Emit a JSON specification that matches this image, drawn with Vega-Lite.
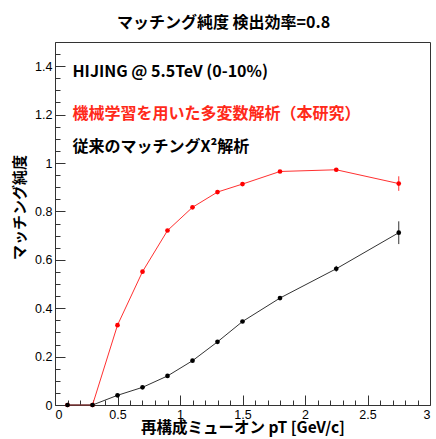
{
  "$schema": "https://vega.github.io/schema/vega-lite/v6.json",
  "width": 375,
  "height": 363,
  "autosize": "none",
  "padding": {"left": 55, "top": 42, "right": 6, "bottom": 34},
  "background": "white",
  "title": {"text": "マッチング純度  検出効率=0.8", "font": "Noto Sans CJK JP", "fontSize": 16, "fontWeight": "bold", "anchor": "middle", "dx": -19, "offset": 11, "color": "black"},
  "config": {
    "view": {"stroke": "#333", "strokeWidth": 1},
    "axis": {"grid": false, "domain": false, "labelFont": "Liberation Sans", "labelFontSize": 12.5, "labelColor": "black", "tickColor": "#333", "titleColor": "black", "titleFont": "Noto Sans CJK JP", "titleFontWeight": "bold"}
  },
  "datasets": {
    "pts": [
      {"pt": 0.1, "purity": 0.0, "lo": 0.0, "hi": 0.0, "method": "ML"},
      {"pt": 0.3, "purity": 0.0, "lo": 0.0, "hi": 0.0, "method": "ML"},
      {"pt": 0.5, "purity": 0.33, "lo": 0.33, "hi": 0.33, "method": "ML"},
      {"pt": 0.7, "purity": 0.551, "lo": 0.551, "hi": 0.551, "method": "ML"},
      {"pt": 0.9, "purity": 0.721, "lo": 0.721, "hi": 0.721, "method": "ML"},
      {"pt": 1.1, "purity": 0.817, "lo": 0.817, "hi": 0.817, "method": "ML"},
      {"pt": 1.3, "purity": 0.88, "lo": 0.88, "hi": 0.88, "method": "ML"},
      {"pt": 1.5, "purity": 0.913, "lo": 0.913, "hi": 0.913, "method": "ML"},
      {"pt": 1.8, "purity": 0.965, "lo": 0.96, "hi": 0.97, "method": "ML"},
      {"pt": 2.25, "purity": 0.972, "lo": 0.966, "hi": 0.978, "method": "ML"},
      {"pt": 2.75, "purity": 0.915, "lo": 0.885, "hi": 0.945, "method": "ML"},
      {"pt": 0.1, "purity": 0.0, "lo": 0.0, "hi": 0.0, "method": "chi2"},
      {"pt": 0.3, "purity": 0.0, "lo": 0.0, "hi": 0.0, "method": "chi2"},
      {"pt": 0.5, "purity": 0.04, "lo": 0.04, "hi": 0.04, "method": "chi2"},
      {"pt": 0.7, "purity": 0.073, "lo": 0.073, "hi": 0.073, "method": "chi2"},
      {"pt": 0.9, "purity": 0.12, "lo": 0.12, "hi": 0.12, "method": "chi2"},
      {"pt": 1.1, "purity": 0.183, "lo": 0.183, "hi": 0.183, "method": "chi2"},
      {"pt": 1.3, "purity": 0.261, "lo": 0.261, "hi": 0.261, "method": "chi2"},
      {"pt": 1.5, "purity": 0.345, "lo": 0.345, "hi": 0.345, "method": "chi2"},
      {"pt": 1.8, "purity": 0.442, "lo": 0.437, "hi": 0.447, "method": "chi2"},
      {"pt": 2.25, "purity": 0.563, "lo": 0.551, "hi": 0.575, "method": "chi2"},
      {"pt": 2.75, "purity": 0.712, "lo": 0.665, "hi": 0.759, "method": "chi2"}
    ],
    "notes": [
      {"tx": 0.14, "ty": 1.377, "label": "HIJING @ 5.5TeV (0-10%)", "col": "black"},
      {"tx": 0.14, "ty": 1.203, "label": "機械学習を用いた多変数解析（本研究）", "col": "#ff2a1a"},
      {"tx": 0.14, "ty": 1.068, "label": "従来のマッチングX²解析", "col": "black"}
    ]
  },
  "encoding": {
    "x": {"field": "pt", "type": "quantitative", "scale": {"domain": [0, 3], "nice": false},
      "axis": {"title": "再構成ミューオン pT [GeV/c]", "titleFontSize": 15.5, "titlePadding": 0,
        "values": [0,0.1,0.2,0.3,0.4,0.5,0.6,0.7,0.8,0.9,1,1.1,1.2,1.3,1.4,1.5,1.6,1.7,1.8,1.9,2,2.1,2.2,2.3,2.4,2.5,2.6,2.7,2.8,2.9,3],
        "labelExpr": "round(datum.value*10) % 5 == 0 ? format(datum.value, '~g') : ''",
        "tickSize": {"condition": {"test": "round(datum.value*10) % 5 == 0", "value": -10}, "value": -5},
        "labelPadding": 13}},
    "y": {"field": "purity", "type": "quantitative", "scale": {"domain": [0, 1.5], "nice": false},
      "axis": {"title": "マッチング純度", "titleFontSize": 15, "titleX": -36, "titleY": 165, "titleBaseline": "middle",
        "values": [0,0.05,0.1,0.15,0.2,0.25,0.3,0.35,0.4,0.45,0.5,0.55,0.6,0.65,0.7,0.75,0.8,0.85,0.9,0.95,1,1.05,1.1,1.15,1.2,1.25,1.3,1.35,1.4,1.45,1.5],
        "labelExpr": "round(datum.value*20) % 4 == 0 ? format(datum.value, '~g') : ''",
        "tickSize": {"condition": {"test": "round(datum.value*20) % 4 == 0", "value": -10}, "value": -5},
        "labelPadding": 13}}
  },
  "layer": [
    {"data": {"values": [{"y": 1}]}, "mark": {"type": "rule", "color": "#222", "strokeWidth": 1, "strokeDash": [2, 2]}, "encoding": {"y": {"field": "y", "type": "quantitative"}}},
    {"data": {"name": "pts"}, "transform": [{"filter": "datum.method == 'ML'"}],
      "layer": [
        {"mark": {"type": "line", "color": "#ff3030", "strokeWidth": 1}},
        {"mark": {"type": "rule", "color": "#ff3030", "strokeWidth": 1}, "encoding": {"y": {"field": "lo", "type": "quantitative"}, "y2": {"field": "hi"}}},
        {"mark": {"type": "point", "filled": true, "color": "#ff0000", "opacity": 1, "size": 22}}
      ]},
    {"data": {"name": "pts"}, "transform": [{"filter": "datum.method == 'chi2'"}],
      "layer": [
        {"mark": {"type": "line", "color": "#333", "strokeWidth": 1}},
        {"mark": {"type": "rule", "color": "#333", "strokeWidth": 1}, "encoding": {"y": {"field": "lo", "type": "quantitative"}, "y2": {"field": "hi"}}},
        {"mark": {"type": "point", "filled": true, "color": "#000", "opacity": 1, "size": 22}}
      ]},
    {"data": {"name": "notes"}, "mark": {"type": "text", "font": "Noto Sans CJK JP", "fontWeight": "bold", "fontSize": 16, "align": "left", "baseline": "middle"},
      "encoding": {"x": {"field": "tx", "type": "quantitative"}, "y": {"field": "ty", "type": "quantitative"}, "text": {"field": "label"}, "color": {"field": "col", "type": "nominal", "scale": null}}}
  ]
}
